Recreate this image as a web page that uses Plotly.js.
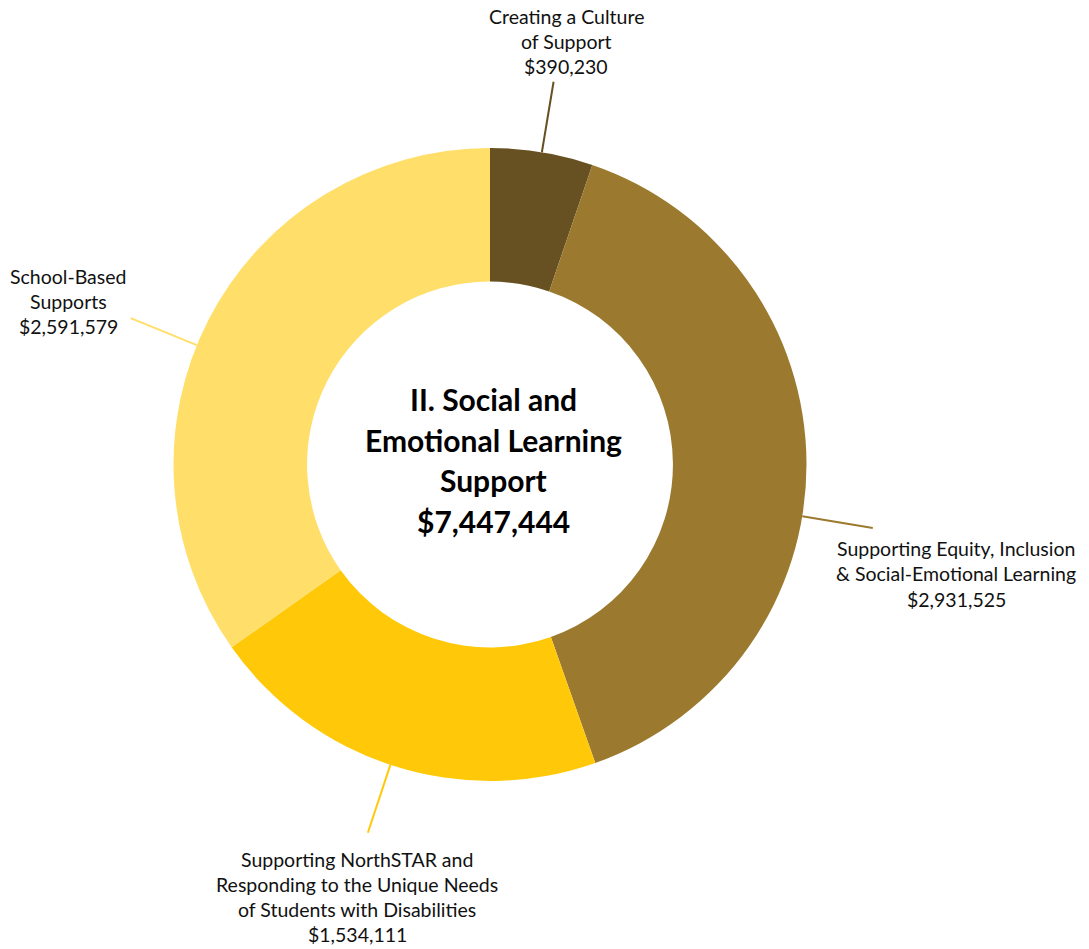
<!DOCTYPE html>
<html>
<head>
<meta charset="utf-8">
<script src="https://cdn.plot.ly/plotly-3.0.1.min.js"></script>
<style>html,body{margin:0;padding:0;background:#fff;}#chart{width:1089px;height:949px;}</style>
</head>
<body>
<div id="chart"></div>
<script>
// ---- data ----
const categories = [
  "Creating a Culture of Support",
  "Supporting Equity, Inclusion & Social-Emotional Learning",
  "Supporting NorthSTAR and Responding to the Unique Needs of Students with Disabilities",
  "School-Based Supports"
];
const values = [390230, 2931525, 1534111, 2591579];
const labelLines = [
  ["Creating a Culture", "of Support"],
  ["Supporting Equity, Inclusion", "& Social-Emotional Learning"],
  ["Supporting NorthSTAR and", "Responding to the Unique Needs", "of Students with Disabilities"],
  ["School-Based", "Supports"]
];
const centerLines = ["II. Social and", "Emotional Learning", "Support"];
const totalLabel = "$7,447,444";

// ---- styling / layout constants ----
const colors = ["#675022", "#9B7A2F", "#FFC90A", "#FFDF69"];
const W = 1089, H = 949;
const cx = 490, cy = 464.5, R = 316.5;
const holeFrac = 0.578;
const leaderOuter = 388;
const leaderTweak = [0, 9.7, 0.7, -5.2];          // degrees, label placement nudges
const labelPos = [                                 // pixel centre x, first line centre y
  {x: 566, y: 16}, {x: 956, y: 548.5}, {x: 357, y: 859}, {x: 68, y: 276}
];
const lineGap = 25.3;
const labelFont = {family: "Lato, 'Open Sans', sans-serif", size: 19.5, color: "#111"};
const centerFont = {family: "Lato, 'Open Sans', sans-serif", size: 30, color: "#000"};

const px = x => x / W, py = y => 1 - y / H;
const fmt = v => "$" + v.toLocaleString("en-US");

const total = values.reduce((a, b) => a + b, 0);
const annotations = [];
const shapes = [];
let cum = 0;
values.forEach((v, i) => {
  const mid = (cum + v / 2) / total * 360 + leaderTweak[i];
  cum += v;
  const t = mid * Math.PI / 180;
  shapes.push({
    type: "line", xref: "paper", yref: "paper",
    x0: px(cx + R * Math.sin(t)), y0: py(cy - R * Math.cos(t)),
    x1: px(cx + leaderOuter * Math.sin(t)), y1: py(cy - leaderOuter * Math.cos(t)),
    line: {color: colors[i], width: 2}
  });
  const lines = labelLines[i].concat([fmt(values[i])]);
  lines.forEach((s, k) => {
    annotations.push({
      xref: "paper", yref: "paper", x: px(labelPos[i].x), y: py(labelPos[i].y + k * lineGap),
      xanchor: "center", yanchor: "middle", showarrow: false, text: s, font: labelFont
    });
  });
});
const cLines = centerLines.concat([totalLabel]);
cLines.forEach((s, k) => {
  annotations.push({
    xref: "paper", yref: "paper", x: px(493), y: py(399 + k * 40.7),
    xanchor: "center", yanchor: "middle", showarrow: false,
    text: "<b>" + s + "</b>", font: centerFont
  });
});

const trace = {
  type: "pie",
  labels: categories,
  values: values,
  hole: holeFrac,
  sort: false,
  direction: "clockwise",
  rotation: 0,
  textinfo: "none",
  hoverinfo: "label+value",
  marker: {colors: colors, line: {width: 0}},
  domain: {x: [px(cx - R), px(cx + R)], y: [py(cy + R), py(cy - R)]},
  showlegend: false
};

Plotly.newPlot("chart", [trace], {
  width: W, height: H,
  margin: {l: 0, r: 0, t: 0, b: 0},
  paper_bgcolor: "#fff",
  showlegend: false,
  annotations: annotations,
  shapes: shapes
}, {displayModeBar: false, staticPlot: true});
</script>
</body>
</html>
